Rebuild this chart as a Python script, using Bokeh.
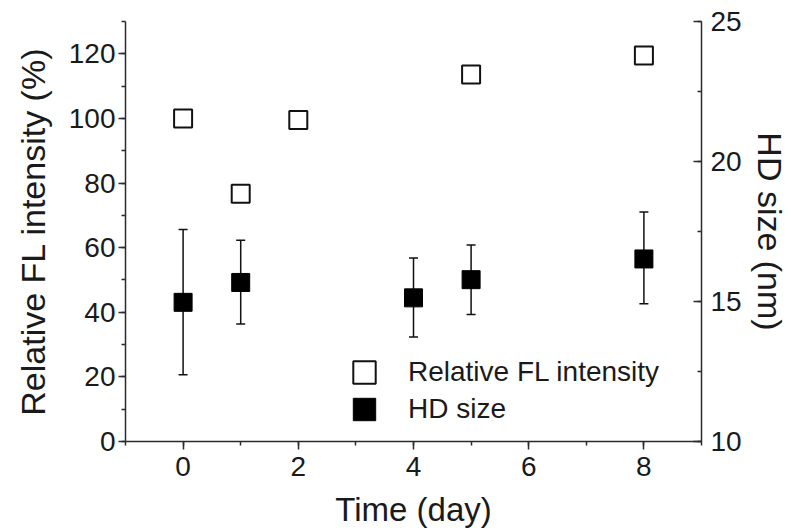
from bokeh.plotting import figure
from bokeh.models import (ColumnDataSource, Range1d, LinearAxis, SingleIntervalTicker,
                          Whisker, TeeHead, Legend, LegendItem)
from bokeh.embed import file_html
from bokeh.resources import INLINE

# ---- data ----
days_fl = [0, 1, 2, 5, 8]
fl_intensity = [100.0, 76.7, 99.5, 113.6, 119.5]

days_hd = [0, 1, 4, 5, 8]
hd_size = [14.97, 15.68, 15.13, 15.78, 16.52]
hd_upper = [17.57, 17.19, 16.55, 17.02, 18.20]
hd_lower = [12.38, 14.20, 13.73, 14.54, 14.92]

x_title = "Time (day)"
y_left_title = "Relative FL intensity (%)"
y_right_title = "HD size (nm)"
legend_labels = ["Relative FL intensity", "HD size"]

FONT = "Liberation Sans"
AXC = "#2b2b2b"
TXT = "#1a1a1a"

p = figure(width=791, height=530, x_range=Range1d(-1, 9), y_range=Range1d(0, 130),
           output_backend="svg", toolbar_location=None,
           min_border_left=125, min_border_right=90, min_border_top=21, min_border_bottom=89)
p.extra_y_ranges = {"hd": Range1d(10, 25)}
p.outline_line_color = None
p.xgrid.visible = False
p.ygrid.visible = False
p.background_fill_color = "white"
p.border_fill_color = "white"

def style_axis(ax, tick_in=0, tick_out=8, minor_in=0, minor_out=4):
    ax.axis_line_color = AXC
    ax.axis_line_width = 1.5
    ax.major_tick_line_color = AXC
    ax.major_tick_line_width = 1.5
    ax.minor_tick_line_color = AXC
    ax.minor_tick_line_width = 1.5
    ax.major_tick_in = tick_in
    ax.major_tick_out = tick_out
    ax.minor_tick_in = minor_in
    ax.minor_tick_out = minor_out
    ax.major_label_text_font = FONT
    ax.major_label_text_font_size = "28px"
    ax.major_label_text_color = TXT
    ax.axis_label_text_font = FONT
    ax.axis_label_text_font_size = "34px"
    ax.axis_label_text_font_style = "normal"
    ax.axis_label_text_color = TXT

xa = p.xaxis[0]
xa.ticker = SingleIntervalTicker(interval=2, num_minor_ticks=2)
xa.axis_label = x_title
style_axis(xa)
xa.axis_label_text_font_size = "33px"
xa.major_label_standoff = 7
xa.axis_label_standoff = 12

ya = p.yaxis[0]
ya.ticker = SingleIntervalTicker(interval=20, num_minor_ticks=2)
ya.axis_label = y_left_title
style_axis(ya, tick_out=7, minor_out=4)
ya.major_label_standoff = 3
ya.axis_label_standoff = 14

ra = LinearAxis(y_range_name="hd", axis_label=y_right_title,
                ticker=SingleIntervalTicker(interval=5, num_minor_ticks=2))
style_axis(ra, tick_in=8, tick_out=0, minor_in=4, minor_out=0)
ra.major_label_standoff = 9
ra.axis_label_standoff = 6
p.add_layout(ra, "right")

# error bars for HD size
src_hd = ColumnDataSource(dict(x=days_hd, y=hd_size, upper=hd_upper, lower=hd_lower))
wh = Whisker(source=src_hd, base="x", upper="upper", lower="lower", y_range_name="hd",
             line_color="#111111", line_width=1.5,
             upper_head=TeeHead(size=9, line_color="#111111", line_width=1.5),
             lower_head=TeeHead(size=9, line_color="#111111", line_width=1.5))
p.add_layout(wh)

src_fl = ColumnDataSource(dict(x=days_fl, y=fl_intensity))

# legend swatches: zero-size rects on the same data, hidden beneath the markers
proxy_open = p.rect("x", "y", width=0, height=0, source=src_fl,
                    fill_color="white", line_color="#111111", line_width=2)
proxy_fill = p.rect("x", "y", width=0, height=0, source=src_hd, y_range_name="hd",
                    fill_color="black", line_color="black", line_width=1)

r_open = p.scatter("x", "y", source=src_fl, marker="square", size=18,
                   fill_color="white", line_color="#111111", line_width=2)
r_fill = p.scatter("x", "y", source=src_hd, marker="square", size=18, y_range_name="hd",
                   fill_color="black", line_color="black", line_width=1)

legend = Legend(items=[LegendItem(label=legend_labels[0], renderers=[proxy_open]),
                       LegendItem(label=legend_labels[1], renderers=[proxy_fill])],
                location=(225, 16), glyph_width=28, glyph_height=28, label_height=28,
                spacing=5, padding=0, margin=0, label_standoff=30,
                label_text_font=FONT, label_text_font_size="28px", label_text_color=TXT,
                border_line_color=None, background_fill_alpha=0)
p.add_layout(legend)

open("out.html", "w").write(file_html(p, INLINE))
